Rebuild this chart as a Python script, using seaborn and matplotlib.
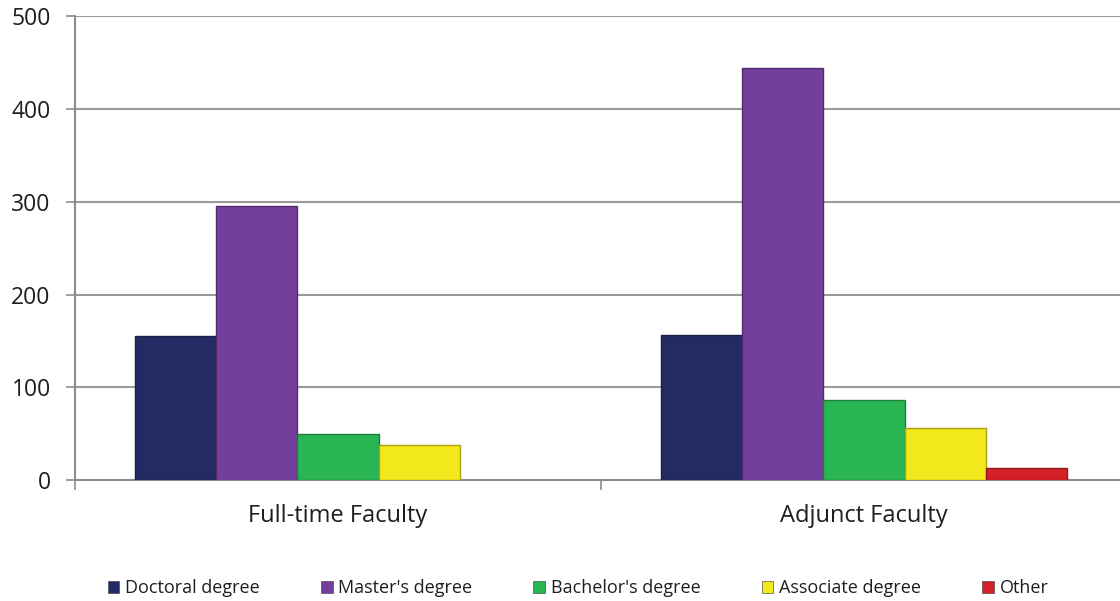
import pandas as pd
import numpy as np
import matplotlib.pyplot as plt
import seaborn as sns
from matplotlib.patches import Patch
from matplotlib.colors import to_rgb

# data
faculty_types = ['Full-time Faculty', 'Adjunct Faculty']
degrees = ["Doctoral degree", "Master's degree", "Bachelor's degree", "Associate degree", "Other"]
full_time = [155, 295, 50, 38, None]
adjunct = [156, 444, 86, 56, 13]
degree_colors = ['#222C62', '#743F9C', '#29B551', '#F3E81B', '#D42029']

rows = []
for deg, ft, ad in zip(degrees, full_time, adjunct):
    if ft is not None:
        rows.append({'group': faculty_types[0], 'degree': deg, 'count': ft})
    rows.append({'group': faculty_types[1], 'degree': deg, 'count': ad})
df = pd.DataFrame(rows)

sns.set_style('white')
plt.rcParams['font.family'] = ['Open Sans', 'DejaVu Sans']

fig = plt.figure(figsize=(11.2, 6.01), dpi=100)
ax = fig.add_axes([75 / 1120, 121 / 601, 1052 / 1120, 463.7 / 601])

sns.barplot(data=df, x='group', y='count', hue='degree', order=faculty_types,
            hue_order=degrees, palette=degree_colors, saturation=1, width=0.77,
            linewidth=0, ax=ax, legend=False, zorder=3)

# darker outline in each bar's own colour (a hint of the bevel look)
for bar in ax.patches:
    r, g, b = to_rgb(bar.get_facecolor())
    bar.set_edgecolor((r * 0.7, g * 0.7, b * 0.7))
    bar.set_linewidth(1.0)

ax.set_xlim(-0.5, 1.5)
ax.set_ylim(0, 500)
ax.set_yticks([0, 100, 200, 300, 400, 500])
ax.set_xlabel('')
ax.set_ylabel('')
ax.yaxis.grid(True, color='#9a9a9a', linewidth=1.5, zorder=0)
ax.xaxis.grid(False)

for s in ['top', 'right']:
    ax.spines[s].set_visible(False)
for s in ['left', 'bottom']:
    ax.spines[s].set_color('#8c8c8c')
    ax.spines[s].set_linewidth(1.5)

ax.tick_params(axis='y', which='major', length=6.5, width=1.2, color='#8c8c8c',
               labelsize=16.5, labelcolor='#1e1e1e', pad=11, left=True)
ax.tick_params(axis='x', which='major', length=0, labelsize=17,
               labelcolor='#1e1e1e', pad=17)
ax.set_xticks([-0.5, 0.5, 1.5], minor=True)
ax.tick_params(axis='x', which='minor', length=7, width=1.2, color='#8c8c8c',
               bottom=True)

handles = [Patch(facecolor=c, edgecolor='#333333', linewidth=0.4, label=d)
           for c, d in zip(degree_colors, degrees)]
fig.legend(handles=handles, loc='center', bbox_to_anchor=(0.516, 1 - 588 / 601),
           ncol=5, frameon=False, fontsize=13, handlelength=0.65,
           handleheight=0.65, handletextpad=0.3, columnspacing=3.4,
           labelcolor='#1e1e1e', borderaxespad=0, borderpad=0)

plt.savefig('out.png', dpi=100)
